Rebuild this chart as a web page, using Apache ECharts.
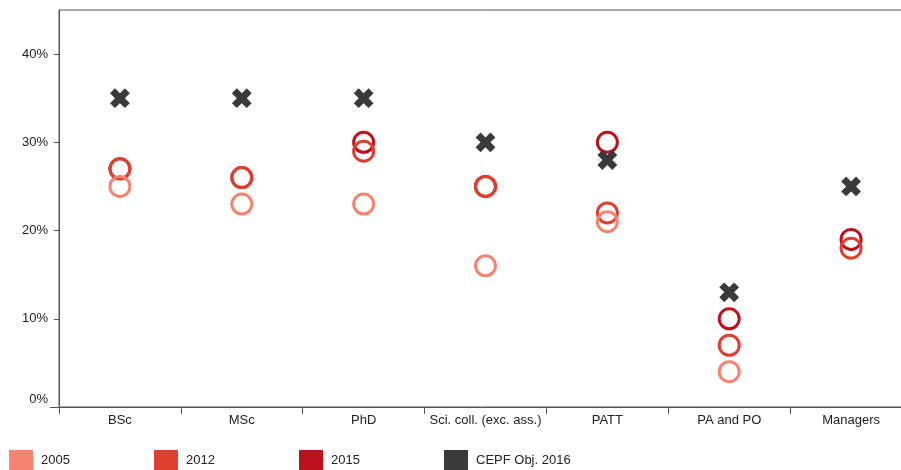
<!DOCTYPE html>
<html><head><meta charset="utf-8">
<script src="https://cdn.jsdelivr.net/npm/echarts@6/dist/echarts.min.js"></script>
<style>html,body{margin:0;padding:0;background:#fff}#c{width:901px;height:470px}</style>
</head><body><div id="c"></div>
<script>
const categories = ['BSc', 'MSc', 'PhD', 'Sci. coll. (exc. ass.)', 'PATT', 'PA and PO', 'Managers'];
const v2005 = [25, 23, 23, 16, 21, 4, null];
const v2012 = [27, 26, 29, 25, 22, 7, 18];
const v2015 = [27, 26, 30, 25, 30, 10, 19];
const vCEPF = [35, 35, 35, 30, 28, 13, 25];
const yTicks = [0, 10, 20, 30, 40];
const legendNames = ['2005', '2012', '2015', 'CEPF Obj. 2016'];

const colors = {'2005': '#F5836F', '2012': '#DE3F2F', '2015': '#BD111D', 'CEPF Obj. 2016': '#3a3a3a'};
const font = 'Liberation Sans, Arial, sans-serif';
const crossPath = 'path://M-1,-3L1,-3L1,-1L3,-1L3,1L1,1L1,3L-1,3L-1,1L-3,1L-3,-1L-1,-1Z';

function circleSeries(name, data, z) {
  return {
    name, type: 'scatter', data, z,
    symbol: 'circle', symbolSize: 20,
    itemStyle: {color: 'transparent', borderColor: colors[name], borderWidth: 3, opacity: 1},
    emphasis: {disabled: true}
  };
}

const legendLefts = [9, 154, 299, 444];
const legends = legendNames.map((n, i) => ({
  data: [{name: n, itemStyle: {color: colors[n], borderWidth: 0}}],
  left: legendLefts[i], top: 450, icon: 'rect', itemWidth: 24, itemHeight: 20,
  padding: 0, selectedMode: false, orient: 'horizontal',
  textStyle: {fontFamily: font, fontSize: 13, color: '#222', padding: [7, 0, 0, 3]}
}));

const chart = echarts.init(document.getElementById('c'), null, {renderer: 'canvas'});
chart.setOption({
  animation: false,
  grid: {left: 59, top: 10, width: 853, height: 397, show: true, borderColor: '#555', borderWidth: 1,
         backgroundColor: 'transparent', outerBoundsMode: 'none', containLabel: false},
  legend: legends,
  graphic: [{
    type: 'line', silent: true, z: 10,
    shape: {x1: 50, y1: 407.5, x2: 60, y2: 407.5},
    style: {stroke: '#555', lineWidth: 1}
  }],
  xAxis: {
    type: 'category', data: categories, boundaryGap: true,
    axisLine: {lineStyle: {color: '#555', width: 1}},
    axisTick: {show: true, length: 7, lineStyle: {color: '#555'}},
    axisLabel: {fontFamily: font, fontSize: 13, color: '#222', margin: 7, interval: 0},
    splitLine: {show: false}
  },
  yAxis: {
    type: 'value', min: 0, max: 45, interval: 10,
    axisLine: {show: true, lineStyle: {color: '#555', width: 1}},
    axisTick: {show: true, length: 5, lineStyle: {color: '#555'}, customValues: yTicks},
    axisLabel: {
      fontFamily: font, fontSize: 13, color: '#222', margin: 11, customValues: yTicks,
      formatter: function (v) { return v === 0 ? '{z|0%}' : v + '%'; },
      rich: {z: {fontFamily: font, fontSize: 13, color: '#222', padding: [0, 0, 16, 0]}}
    },
    splitLine: {show: false}
  },
  series: [
    circleSeries('2015', v2015, 2),
    circleSeries('2012', v2012, 3),
    circleSeries('2005', v2005, 4),
    {
      name: 'CEPF Obj. 2016', type: 'scatter', data: vCEPF, z: 5,
      symbol: crossPath, symbolSize: 21, symbolRotate: 45,
      itemStyle: {color: colors['CEPF Obj. 2016'], opacity: 1},
      emphasis: {disabled: true}
    }
  ]
});
</script></body></html>
